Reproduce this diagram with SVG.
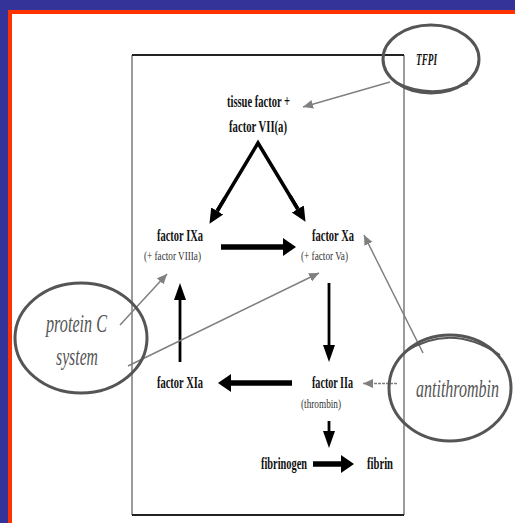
<svg xmlns="http://www.w3.org/2000/svg" width="515" height="523" viewBox="0 0 515 523">
  <style>
    .lbl { font-family: "Liberation Serif", "Times New Roman", serif; font-weight: bold; font-size: 17px; fill: #111; }
    .sub { font-family: "Liberation Serif", "Times New Roman", serif; font-size: 13px; fill: #333; }
    .inh { font-family: "Liberation Serif", "Times New Roman", serif; font-style: italic; font-size: 25px; fill: #555; }
    .ring { fill: none; stroke: #555; stroke-width: 3; }
    .thick { stroke: #000; stroke-width: 5.5; fill: none; }
    .mid { stroke: #000; stroke-width: 3.5; fill: none; }
    .thin { stroke: #000; stroke-width: 2.8; fill: none; }
    .gray { stroke: #808080; stroke-width: 1.5; fill: none; }
  </style>
  <defs>
    <marker id="headThick" markerUnits="userSpaceOnUse" markerWidth="14" markerHeight="20" viewBox="0 -10 14 20" refX="0" refY="0" orient="auto">
      <path d="M0,-9 L13,0 L0,9 Z" fill="#000"/>
    </marker>
    <marker id="headMid" markerUnits="userSpaceOnUse" markerWidth="16" markerHeight="16" viewBox="0 -8 16 16" refX="0" refY="0" orient="auto">
      <path d="M0,-7 L15,0 L0,7 Z" fill="#000"/>
    </marker>
    <marker id="headThin" markerUnits="userSpaceOnUse" markerWidth="18" markerHeight="14" viewBox="0 -7 18 14" refX="0" refY="0" orient="auto">
      <path d="M0,-6 L17,0 L0,6 Z" fill="#000"/>
    </marker>
    <marker id="headGray" markerUnits="userSpaceOnUse" markerWidth="12" markerHeight="12" viewBox="0 -6 12 12" refX="10" refY="0" orient="auto">
      <path d="M0,-4.5 L10,0 L0,4.5 Z" fill="#808080"/>
    </marker>
  </defs>

  <!-- page background and frame -->
  <rect x="0" y="0" width="515" height="523" fill="#ffffff"/>
  <rect x="0" y="0" width="515" height="10" fill="#333399"/>
  <rect x="0" y="0" width="8" height="523" fill="#333399"/>
  <rect x="8" y="10" width="507" height="4" fill="#ff3300"/>
  <rect x="8" y="10" width="4" height="513" fill="#ff3300"/>

  <!-- cascade box -->
  <g id="box">
    <line x1="132" y1="55" x2="132" y2="515" stroke="#666" stroke-width="1.3"/>
    <line x1="404" y1="55" x2="404" y2="515" stroke="#666" stroke-width="1.3"/>
    <line x1="132" y1="55" x2="404" y2="55" stroke="#222" stroke-width="2"/>
    <line x1="132" y1="515" x2="404" y2="515" stroke="#222" stroke-width="2"/>
  </g>

  <!-- connectors -->
  <g id="connectors">
    <!-- tissue factor complex activates IXa and Xa -->
    <polyline class="mid" points="217.2,211 258,143 297.8,209" stroke-linejoin="miter"/>
    <line class="mid" x1="225" y1="198" x2="217.2" y2="211" marker-end="url(#headMid)"/>
    <line class="mid" x1="290" y1="196" x2="297.8" y2="209" marker-end="url(#headMid)"/>
    <!-- IXa -> Xa -->
    <line class="thick" x1="221" y1="247" x2="283" y2="247" marker-end="url(#headThick)"/>
    <!-- Xa -> IIa -->
    <line class="thin" x1="329" y1="283" x2="329" y2="345" marker-end="url(#headThin)"/>
    <!-- IIa -> XIa -->
    <line class="thick" x1="292" y1="383" x2="231" y2="383" marker-end="url(#headThick)"/>
    <!-- XIa -> IXa -->
    <line class="thin" x1="180" y1="362" x2="180" y2="300" marker-end="url(#headThin)"/>
    <!-- IIa -> fibrinogen -->
    <line class="thin" x1="329" y1="421" x2="329" y2="431" marker-end="url(#headThin)"/>
    <!-- fibrinogen -> fibrin -->
    <line class="thick" x1="313" y1="464" x2="341" y2="464" marker-end="url(#headThick)"/>

    <!-- inhibitor arrows -->
    <line class="gray" x1="390" y1="82" x2="303" y2="107" marker-end="url(#headGray)"/>
    <line class="gray" x1="120" y1="325" x2="167" y2="274" marker-end="url(#headGray)"/>
    <line class="gray" x1="128" y1="366" x2="319" y2="273" marker-end="url(#headGray)"/>
    <line class="gray" x1="423" y1="353" x2="364" y2="235" marker-end="url(#headGray)"/>
    <line class="gray" x1="397" y1="383.5" x2="363" y2="383.5" marker-end="url(#headGray)" stroke-dasharray="3 1"/>
  </g>

  <!-- nodes -->
  <g id="tissue-factor">
    <text class="lbl" x="227" y="107" textLength="63" lengthAdjust="spacingAndGlyphs">tissue factor +</text>
    <text class="lbl" x="229" y="132" textLength="58" lengthAdjust="spacingAndGlyphs">factor VII(a)</text>
  </g>
  <g id="factor-IXa">
    <text class="lbl" x="157" y="241" textLength="46" lengthAdjust="spacingAndGlyphs">factor IXa</text>
    <text class="sub" x="144" y="260" textLength="57" lengthAdjust="spacingAndGlyphs">(+ factor VIIIa)</text>
  </g>
  <g id="factor-Xa">
    <text class="lbl" x="312" y="241" textLength="42" lengthAdjust="spacingAndGlyphs">factor Xa</text>
    <text class="sub" x="301" y="260" textLength="47" lengthAdjust="spacingAndGlyphs">(+ factor Va)</text>
  </g>
  <g id="factor-XIa">
    <text class="lbl" x="157" y="388" textLength="46" lengthAdjust="spacingAndGlyphs">factor XIa</text>
  </g>
  <g id="factor-IIa">
    <text class="lbl" x="312" y="388" textLength="41" lengthAdjust="spacingAndGlyphs">factor IIa</text>
    <text class="sub" x="301" y="408" textLength="40" lengthAdjust="spacingAndGlyphs" font-size="12">(thrombin)</text>
  </g>
  <g id="fibrinogen">
    <text class="lbl" x="261" y="469" textLength="46" lengthAdjust="spacingAndGlyphs">fibrinogen</text>
  </g>
  <g id="fibrin">
    <text class="lbl" x="367" y="469" textLength="26" lengthAdjust="spacingAndGlyphs">fibrin</text>
  </g>

  <g id="tfpi">
    <ellipse class="ring" cx="431" cy="59" rx="48" ry="34"/>
    <path d="M395,82 Q431,100 468,83" fill="none" stroke="#555" stroke-width="2"/>
    <text class="lbl" x="416" y="65" textLength="21" lengthAdjust="spacingAndGlyphs" font-style="italic" font-size="15">TFPI</text>
  </g>
  <g id="protein-c">
    <ellipse class="ring" cx="81" cy="338" rx="66" ry="55"/>
    <text class="inh" x="46" y="332" textLength="61" lengthAdjust="spacingAndGlyphs">protein C</text>
    <text class="inh" x="56" y="365" textLength="42" lengthAdjust="spacingAndGlyphs">system</text>
  </g>
  <g id="antithrombin">
    <ellipse class="ring" cx="450" cy="388" rx="61" ry="53"/>
    <path d="M405,352 Q451,322 500,355" fill="none" stroke="#555" stroke-width="2"/>
    <text class="inh" transform="translate(416,397) scale(0.65,1)" x="0" y="0" textLength="127.7" lengthAdjust="spacingAndGlyphs" font-family="'Noto Sans', 'DejaVu Sans', sans-serif" font-size="21">antithrombin</text>
  </g>
</svg>
